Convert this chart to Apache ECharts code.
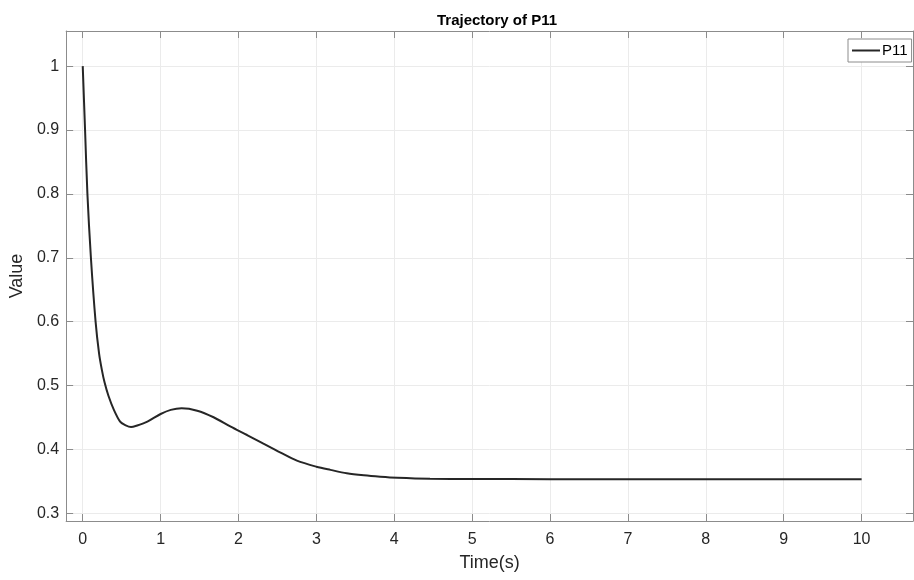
<!DOCTYPE html>
<html>
<head>
<meta charset="utf-8">
<script src="https://cdn.jsdelivr.net/npm/echarts@6/dist/echarts.min.js"></script>
<style>html,body{margin:0;padding:0;background:#fff;}#c{width:914px;height:580px;}</style>
</head>
<body>
<div id="c"></div>
<script>
var timeValues = [0, 0.03, 0.06, 0.105, 0.165, 0.21, 0.245, 0.28, 0.33, 0.40, 0.48, 0.54, 0.62, 0.70, 0.83, 1.0, 1.13, 1.27, 1.47, 1.68, 1.9, 2.11, 2.32, 2.54, 2.75, 3.0, 3.18, 3.39, 3.61, 3.82, 4.04, 4.46, 5, 6, 7, 8, 9, 10];
var p11Values = [1.0, 0.9, 0.8, 0.7, 0.6, 0.55, 0.525, 0.505, 0.484, 0.462, 0.4435, 0.4385, 0.435, 0.4375, 0.4435, 0.4555, 0.462, 0.4645, 0.4607, 0.4504, 0.4356, 0.4226, 0.409, 0.395, 0.3824, 0.373, 0.368, 0.3627, 0.3595, 0.3574, 0.3558, 0.3542, 0.3537, 0.3535, 0.3535, 0.3535, 0.3535, 0.3535];
var xTicks = [0, 1, 2, 3, 4, 5, 6, 7, 8, 9, 10];
var yTicks = [0.3, 0.4, 0.5, 0.6, 0.7, 0.8, 0.9, 1];

var seriesData = timeValues.map(function (t, i) { return [t, p11Values[i]]; });
var axisColor = '#8c8c8c';
var font = '"Liberation Sans", Arial, sans-serif';

function xAx(pos, show) {
  return {
    type: 'value', position: pos, min: -0.213, max: 10.66,
    axisLine: { show: true, onZero: false, lineStyle: { color: axisColor, width: 1 } },
    axisTick: { show: true, inside: true, length: 7, customValues: xTicks, lineStyle: { color: axisColor } },
    axisLabel: { show: show, customValues: xTicks, color: '#262626', fontSize: 16, fontFamily: font, margin: 11 },
    splitLine: { show: show, lineStyle: { color: '#ebebeb', width: 1 } },
    name: show ? 'Time(s)' : '', nameLocation: 'middle', nameGap: 33,
    nameTextStyle: { color: '#262626', fontSize: 18, fontFamily: font }
  };
}
function yAx(pos, show) {
  return {
    type: 'value', position: pos, min: 0.288, max: 1.055,
    axisLine: { show: true, onZero: false, lineStyle: { color: axisColor, width: 1 } },
    axisTick: { show: true, inside: true, length: 7, customValues: yTicks, lineStyle: { color: axisColor } },
    axisLabel: { show: show, customValues: yTicks, color: '#262626', fontSize: 16, fontFamily: font, margin: 7,
      formatter: function (v) { return String(Math.round(v * 10) / 10); } },
    splitLine: { show: show, lineStyle: { color: '#ebebeb', width: 1 } },
    name: show ? 'Value' : '', nameLocation: 'middle', nameGap: 38,
    nameTextStyle: { color: '#262626', fontSize: 18, fontFamily: font }
  };
}

var chart = echarts.init(document.getElementById('c'), null, { renderer: 'canvas' });
chart.setOption({
  animation: false,
  backgroundColor: '#ffffff',
  title: {
    text: 'Trajectory of P11', left: 492, top: 8, textAlign: 'center',
    textStyle: { fontSize: 15, fontWeight: 'bold', color: '#000', fontFamily: font }
  },
  legend: {
    data: ['P11'], left: 848, top: 39, icon: 'rect',
    padding: [4, 4, 4, 4], itemWidth: 28, itemHeight: 2, itemGap: 2,
    borderColor: '#8c8c8c', borderWidth: 1, backgroundColor: '#fff',
    textStyle: { fontSize: 15, color: '#000', fontFamily: font, padding: [0, 0, 0, -3] }
  },
  grid: { left: 66, right: 1, top: 31, bottom: 59, containLabel: false },
  xAxis: [xAx('bottom', true), xAx('top', false)],
  yAxis: [yAx('left', true), yAx('right', false)],
  series: [{
    name: 'P11', type: 'line', xAxisIndex: 0, yAxisIndex: 0,
    data: seriesData, symbol: 'none', smooth: 0.3,
    lineStyle: { color: '#262626', width: 2 }, itemStyle: { color: '#262626' }
  }]
});
</script>
</body>
</html>
